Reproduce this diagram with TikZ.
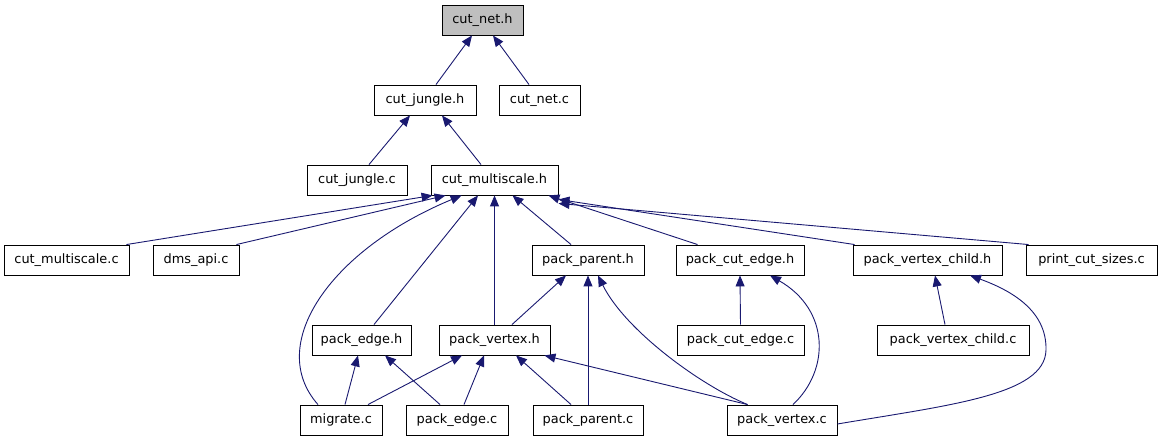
\documentclass[tikz,border=0pt]{standalone}
\usepackage{fontspec}
\setmainfont{DejaVu Sans}
\usetikzlibrary{arrows.meta}
\definecolor{edgeblue}{RGB}{25,25,112}
\definecolor{rootgray}{RGB}{191,191,191}
\begin{document}
\begin{tikzpicture}[x=1pt,y=-1pt,
  filebox/.style={draw=black,line width=0.9pt,fill=white,inner sep=0pt,minimum height=30pt,
    font=\fontsize{12.9}{15}\selectfont},
  edge/.style={draw=edgeblue,line width=0.9pt,-{Triangle[length=11pt,width=9pt]}}]
\useasboundingbox (0,0) rectangle (1160,443);
% row 0
\node[filebox,fill=rootgray,minimum width=81pt] (netH) at (482.5,20) {cut\_net.h};
% row 1
\node[filebox,minimum width=102pt] (jungleH) at (425,100) {cut\_jungle.h};
\node[filebox,minimum width=81pt] (netC) at (539.5,100) {cut\_net.c};
% row 2
\node[filebox,minimum width=100pt] (jungleC) at (357,180) {cut\_jungle.c};
\node[filebox,minimum width=127pt] (msH) at (494.5,180) {cut\_multiscale.h};
% row 3
\node[filebox,minimum width=125pt] (msC) at (66.5,260) {cut\_multiscale.c};
\node[filebox,minimum width=86pt] (dms) at (196,260) {dms\_api.c};
\node[filebox,minimum width=112pt] (ppH) at (588,260) {pack\_parent.h};
\node[filebox,minimum width=128pt] (pceH) at (740,260) {pack\_cut\_edge.h};
\node[filebox,minimum width=149pt] (pvcH) at (927.5,260) {pack\_vertex\_child.h};
\node[filebox,minimum width=131pt] (pcs) at (1091.5,260) {print\_cut\_sizes.c};
% row 4
\node[filebox,minimum width=99pt] (peH) at (361.5,340) {pack\_edge.h};
\node[filebox,minimum width=111pt] (pvH) at (494.5,340) {pack\_vertex.h};
\node[filebox,minimum width=127pt] (pceC) at (740.5,340) {pack\_cut\_edge.c};
\node[filebox,minimum width=152pt] (pvcC) at (953,340) {pack\_vertex\_child.c};
% row 5
\node[filebox,minimum width=82pt] (mig) at (341,420) {migrate.c};
\node[filebox,minimum width=102pt] (peC) at (457,420) {pack\_edge.c};
\node[filebox,minimum width=110pt] (ppC) at (588,420) {pack\_parent.c};
\node[filebox,minimum width=110pt] (pvC) at (782,420) {pack\_vertex.c};
% edges
\draw[edge] ([xshift=11pt]jungleH.north) -- ([xshift=-10.5pt]netH.south);
\draw[edge] ([xshift=-10.5pt]netC.north) -- ([xshift=10.5pt]netH.south);
\draw[edge] ([xshift=12pt]jungleC.north) -- ([xshift=-15pt]jungleH.south);
\draw[edge] ([xshift=-13.5pt]msH.north) -- ([xshift=17pt]jungleH.south);
\draw[edge] ([xshift=-3pt]msC.north east) -- ([xshift=2pt]msH.south west);
\draw[edge] ([xshift=-3pt]dms.north east) -- ([xshift=15pt]msH.south west);
\draw[edge] ([xshift=-23pt]mig.north) .. controls (265,345) and (330,250) .. ([xshift=31pt]msH.south west);
\draw[edge] ([xshift=12.5pt]peH.north) -- ([xshift=-16.5pt]msH.south);
\draw[edge] (pvH.north) -- (msH.south);
\draw[edge] ([xshift=-17pt]ppH.north) -- ([xshift=18pt]msH.south);
\draw[edge] ([xshift=22pt]pceH.north west) -- ([xshift=-10pt]msH.south east);
\draw[edge] ([xshift=2pt]pvcH.north west) -- ([yshift=-4pt]msH.south east);
\draw[edge] ([xshift=3pt]pcs.north west) -- ([yshift=-8pt]msH.south east);
\draw[edge] (ppC.north) -- (ppH.south);
\draw[edge] ([xshift=17.5pt]pvH.north) -- ([xshift=-22pt]ppH.south);
\draw[edge] ([xshift=21pt]pvC.north west) .. controls (700,385) and (625,330) .. ([xshift=10pt]ppH.south);
\draw[edge] (pceC.north) -- (pceH.south);
\draw[edge] ([xshift=11pt]pvC.north) .. controls (830,370) and (830,310) .. ([xshift=30pt]pceH.south);
\draw[edge] ([xshift=-8pt]pvcC.north) -- ([xshift=7.5pt]pvcH.south);
\draw[edge] ([yshift=-4pt]pvC.east) .. controls (950,405) and (1045,395) .. (1046,350) .. controls (1047,310) and (1010,290) .. ([xshift=42.5pt]pvcH.south);
\draw[edge] ([xshift=4pt]mig.north) -- ([xshift=-3.5pt]peH.south);
\draw[edge] ([xshift=-17pt]peC.north) -- ([xshift=23.5pt]peH.south);
\draw[edge] ([xshift=27pt]mig.north) -- ([xshift=-32.5pt]pvH.south);
\draw[edge] ([xshift=7pt]peC.north) -- ([xshift=-10.5pt]pvH.south);
\draw[edge] ([xshift=-17pt]ppC.north) -- ([xshift=21.5pt]pvH.south);
\draw[edge] ([xshift=21pt]pvC.north west) -- ([xshift=-6pt]pvH.south east);
\end{tikzpicture}
\end{document}
